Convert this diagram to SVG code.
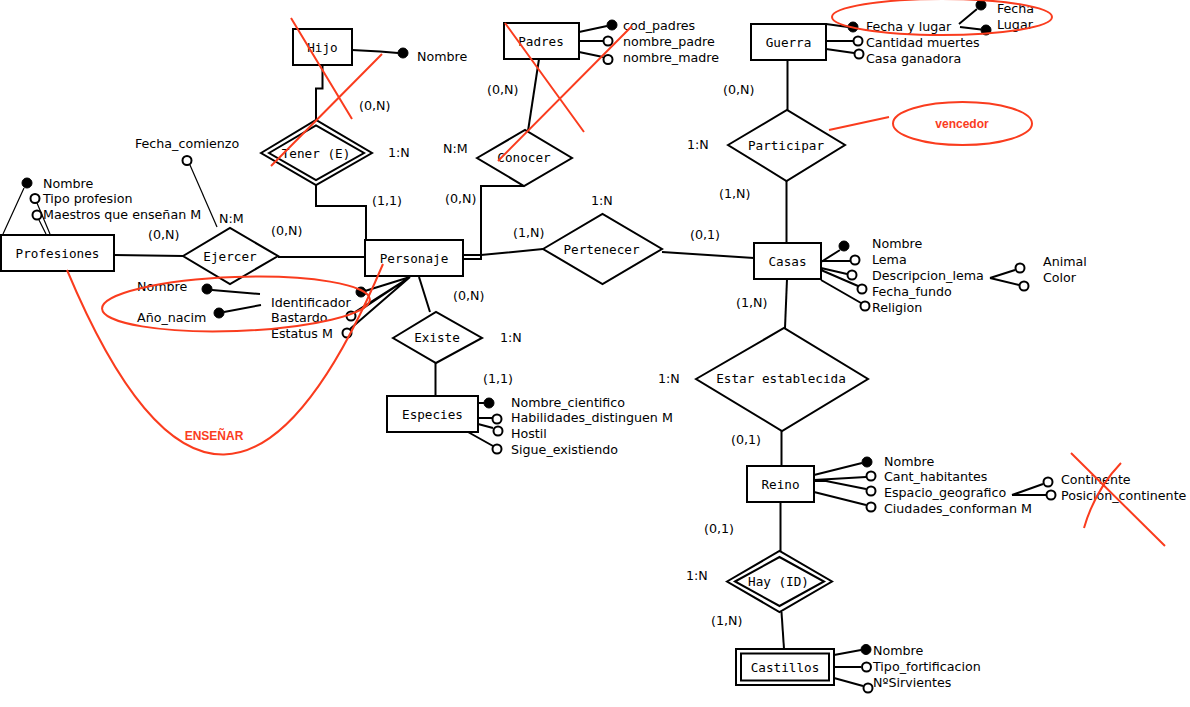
<svg xmlns="http://www.w3.org/2000/svg" width="1190" height="707" viewBox="0 0 1190 707">
<style>
  .box { fill: #fff; stroke: #000; stroke-width: 2; }
  .dia { fill: #fff; stroke: #000; stroke-width: 2; }
  .mono { font-family: "DejaVu Sans Mono", "Liberation Mono", monospace; font-size: 12.67px; text-anchor: middle; fill: #000; }
  .t { font-family: "DejaVu Sans", "Liberation Sans", sans-serif; font-size: 12.67px; fill: #000; }
  .ln { stroke: #000; stroke-width: 2; fill: none; }
  .thin { stroke: #000; stroke-width: 1.2; fill: none; }
  .key { fill: #000; stroke: #000; stroke-width: 1; }
  .opt { fill: #fff; stroke: #000; stroke-width: 2; }
  .red { stroke: #fa3c1e; stroke-width: 2; fill: none; }
  .redtxt { font-family: "Liberation Sans", Arial, sans-serif; font-weight: bold; font-size: 12px; fill: #fa3c1e; text-anchor: middle; }
</style>

<rect x="0" y="0" width="1190" height="707" fill="#fff"/>

<!-- relationship connectors -->
<g id="connectors">
  <path class="ln" d="M322.5,65 V88.5 H316 V121"/>
  <path class="ln" d="M316,185 V206 H366 V240"/>
  <path class="ln" d="M539,59 L528,131"/>
  <path class="ln" d="M524,186 H481 V259 H463"/>
  <path class="ln" d="M463,255 H481 L543,249"/>
  <path class="ln" d="M662,252 L754,258"/>
  <path class="ln" d="M787.5,60 V110"/>
  <path class="ln" d="M786.5,181 V243"/>
  <path class="ln" d="M787,279 L785,328"/>
  <path class="ln" d="M781.5,431 V466"/>
  <path class="ln" d="M780.5,502 V551"/>
  <path class="ln" d="M781.5,612 L784,649"/>
  <path class="ln" d="M114,255 L183,256"/>
  <path class="ln" d="M278,257 H365"/>
  <path class="ln" d="M419,277 L430,312"/>
  <path class="ln" d="M435.5,363 V396"/>
</g>

<!-- cardinalities -->
<g id="cardinalities" class="t">
  <text x="359" y="110">(0,N)</text>
  <text x="388" y="157">1:N</text>
  <text x="372" y="205">(1,1)</text>
  <text x="219" y="223">N:M</text>
  <text x="148" y="239">(0,N)</text>
  <text x="271" y="235">(0,N)</text>
  <text x="487" y="94">(0,N)</text>
  <text x="443" y="153">N:M</text>
  <text x="445" y="203">(0,N)</text>
  <text x="591" y="205">1:N</text>
  <text x="513" y="237">(1,N)</text>
  <text x="690" y="239">(0,1)</text>
  <text x="723" y="94">(0,N)</text>
  <text x="687" y="149">1:N</text>
  <text x="719" y="198">(1,N)</text>
  <text x="453" y="300">(0,N)</text>
  <text x="500" y="342">1:N</text>
  <text x="483" y="383">(1,1)</text>
  <text x="658" y="383">1:N</text>
  <text x="736" y="307">(1,N)</text>
  <text x="731" y="444">(0,1)</text>
  <text x="704" y="533">(0,1)</text>
  <text x="686" y="580">1:N</text>
  <text x="711" y="625">(1,N)</text>
</g>

<!-- entities -->
<g id="hijo">
  <rect class="box" x="293" y="29" width="59" height="36"/>
  <text class="mono" x="322.5" y="51.5">Hijo</text>
  <path class="ln" d="M352,50 L380,51.5 L398,53"/>
  <circle class="key" cx="403" cy="53" r="5"/>
  <text class="t" x="417" y="61">Nombre</text>
</g>

<g id="padres">
  <rect class="box" x="504" y="23" width="75" height="36"/>
  <text class="mono" x="541" y="45.5">Padres</text>
  <path class="ln" d="M579,32 L607,26 M579,41 H603 M579,52 L603,57"/>
  <circle class="key" cx="612" cy="25" r="5"/>
  <circle class="opt" cx="608" cy="41" r="4.5"/>
  <circle class="opt" cx="608" cy="59.5" r="4.5"/>
  <text class="t" x="623" y="30">cod_padres</text>
  <text class="t" x="623" y="46">nombre_padre</text>
  <text class="t" x="623" y="62">nombre_madre</text>
</g>

<g id="guerra">
  <rect class="box" x="751" y="24" width="75" height="36"/>
  <text class="mono" x="788.5" y="46.5">Guerra</text>
  <path class="ln" d="M826,24 L848,27 M826,41 H853 M826,49 L854,53"/>
  <circle class="key" cx="853" cy="27" r="5"/>
  <circle class="opt" cx="858" cy="41" r="4.5"/>
  <circle class="opt" cx="859" cy="54" r="4.5"/>
  <text class="t" x="866" y="30.5">Fecha y lugar</text>
  <text class="t" x="866" y="46.5">Cantidad muertes</text>
  <text class="t" x="866" y="62.5">Casa ganadora</text>
  <path class="ln" d="M959,24 L977,9 M960,27 L981,29.5"/>
  <circle class="key" cx="981" cy="5" r="5"/>
  <circle class="key" cx="986" cy="30" r="5"/>
  <text class="t" x="997" y="12.5">Fecha</text>
  <text class="t" x="997" y="29">Lugar</text>
</g>

<g id="profesiones">
  <rect class="box" x="1" y="235" width="113" height="36"/>
  <text class="mono" x="57.5" y="257.5">Profesiones</text>
  <path class="thin" d="M3,234 L24,188 M50,234 L37,203 M46,234 L39,220"/>
  <circle class="key" cx="27" cy="183" r="5"/>
  <circle class="opt" cx="35" cy="198.5" r="4.5"/>
  <circle class="opt" cx="37" cy="215" r="4.5"/>
  <text class="t" x="43" y="187.5">Nombre</text>
  <text class="t" x="43" y="203">Tipo profesion</text>
  <text class="t" x="43" y="219">Maestros que enseñan M</text>
</g>

<g id="personaje">
  <rect class="box" x="365" y="240" width="98" height="36"/>
  <text class="mono" x="414" y="262.5">Personaje</text>
  <path class="ln" d="M410,277 L365,291 M410,277 L362,309 M410,277 L355,312 M410,277 L350,329"/>
  <circle class="key" cx="361" cy="292" r="5"/>
  <circle class="opt" cx="351" cy="316" r="4.5"/>
  <circle class="opt" cx="347" cy="333" r="4.5"/>
  <text class="t" x="271" y="306.5">Identificador</text>
  <text class="t" x="271" y="321.5">Bastardo</text>
  <text class="t" x="271" y="337.5">Estatus M</text>
  <path class="ln" d="M212,290 L260,294 M224,312 L261,305"/>
  <circle class="key" cx="207" cy="289" r="5"/>
  <circle class="key" cx="219" cy="313" r="5"/>
  <text class="t" x="137" y="290.5">Nombre</text>
  <text class="t" x="137" y="321.5">Año_nacim</text>
</g>

<g id="casas">
  <rect class="box" x="754" y="243" width="67" height="36"/>
  <text class="mono" x="787.5" y="265.5">Casas</text>
  <path class="ln" d="M821,262 L840,250 M821,261 H850 M821,268 L847,274 M821,270 L858,286 M821,280 L861,303"/>
  <circle class="key" cx="844" cy="246" r="5"/>
  <circle class="opt" cx="855" cy="260" r="4.5"/>
  <circle class="opt" cx="852" cy="275" r="4.5"/>
  <circle class="opt" cx="862" cy="289" r="4.5"/>
  <circle class="opt" cx="865" cy="306" r="4.5"/>
  <text class="t" x="872" y="247.5">Nombre</text>
  <text class="t" x="872" y="263.5">Lema</text>
  <text class="t" x="872" y="279.5">Descripcion_lema</text>
  <text class="t" x="872" y="295.5">Fecha_fundo</text>
  <text class="t" x="872" y="311.5">Religion</text>
  <path class="ln" d="M990,278 L1015,270 M990,278 L1019,285"/>
  <circle class="opt" cx="1020" cy="268" r="4.5"/>
  <circle class="opt" cx="1024" cy="286" r="4.5"/>
  <text class="t" x="1043" y="265.5">Animal</text>
  <text class="t" x="1043" y="281.5">Color</text>
</g>

<g id="especies">
  <rect class="box" x="387" y="396" width="91" height="36"/>
  <text class="mono" x="432.5" y="418.5">Especies</text>
  <path class="ln" d="M478,403 H484 M478,418 H492 M478,424 L493,428 M468,432 L493,446"/>
  <circle class="key" cx="489" cy="403" r="5"/>
  <circle class="opt" cx="497" cy="419" r="4.5"/>
  <circle class="opt" cx="498" cy="431" r="4.5"/>
  <circle class="opt" cx="497" cy="449" r="4.5"/>
  <text class="t" x="511" y="406.5">Nombre_cientifico</text>
  <text class="t" x="511" y="422">Habilidades_distinguen M</text>
  <text class="t" x="511" y="438">Hostil</text>
  <text class="t" x="511" y="454">Sigue_existiendo</text>
</g>

<g id="reino">
  <rect class="box" x="747" y="466" width="67" height="36"/>
  <text class="mono" x="780.5" y="488.5">Reino</text>
  <path class="ln" d="M814,475 L862,463 M814,480 L866,477 M814,481 H826 L866,489 M814,492 L866,505"/>
  <circle class="key" cx="867" cy="462" r="5"/>
  <circle class="opt" cx="871" cy="476" r="4.5"/>
  <circle class="opt" cx="871" cy="491" r="4.5"/>
  <circle class="opt" cx="871" cy="507" r="4.5"/>
  <text class="t" x="884" y="465.5">Nombre</text>
  <text class="t" x="884" y="481">Cant_habitantes</text>
  <text class="t" x="884" y="497">Espacio_geografico</text>
  <text class="t" x="884" y="513">Ciudades_conforman M</text>
  <path class="ln" d="M1012,495 L1043,484 M1012,495 H1046"/>
  <circle class="opt" cx="1048" cy="482" r="4.5"/>
  <circle class="opt" cx="1051" cy="495" r="4.5"/>
  <text class="t" x="1061" y="484">Continente</text>
  <text class="t" x="1061" y="500">Posicion_continente</text>
</g>

<g id="castillos">
  <rect class="box" x="736" y="649" width="98" height="36"/>
  <rect class="box" x="741" y="653.5" width="88" height="27"/>
  <text class="mono" x="785" y="671.5">Castillos</text>
  <path class="ln" d="M834,655 L861,650 M834,667 H861 M834,678 L863,686"/>
  <circle class="key" cx="866" cy="649.5" r="5"/>
  <circle class="opt" cx="866.5" cy="667" r="4.5"/>
  <circle class="opt" cx="868" cy="688" r="4.5"/>
  <text class="t" x="873" y="655">Nombre</text>
  <text class="t" x="873" y="671">Tipo_fortificacion</text>
  <text class="t" x="873" y="687">NºSirvientes</text>
</g>

<!-- relationships -->
<g id="tener">
  <polygon class="dia" points="261,153 316,120 372,153 316,185"/>
  <polygon class="dia" points="269,153 316,125.5 364,153 316,180"/>
  <text class="mono" x="316" y="157.5">Tener (E)</text>
</g>
<g id="conocer">
  <polygon class="dia" points="477,158 525,130 572,158 524,186"/>
  <text class="mono" x="524" y="162">Conocer</text>
</g>
<g id="participar">
  <polygon class="dia" points="728,145 787,110 845,145 786.5,181"/>
  <text class="mono" x="786" y="149.5">Participar</text>
</g>
<g id="ejercer">
  <polygon class="dia" points="183,256 230,228 278,256 230,284"/>
  <circle class="opt" cx="187" cy="160.5" r="4.5"/>
  <path class="thin" d="M190,165 L217,227"/>
  <text class="t" x="135" y="148">Fecha_comienzo</text>
  <text class="mono" x="230" y="260.5">Ejercer</text>
</g>
<g id="pertenecer">
  <polygon class="dia" points="543,249 602.5,214 662,249 602.5,284"/>
  <text class="mono" x="601.5" y="253.5">Pertenecer</text>
</g>
<g id="existe">
  <polygon class="dia" points="393,338 436,312 482,338 436,363"/>
  <text class="mono" x="437" y="342">Existe</text>
</g>
<g id="estar-establecida">
  <polygon class="dia" points="696,379 784,328 868,379 782,431"/>
  <text class="mono" x="781" y="383">Estar establecida</text>
</g>
<g id="hay">
  <polygon class="dia" points="727,581.5 779.5,551 832,581.5 779.5,612"/>
  <polygon class="dia" points="735,581.5 779.5,557 824,581.5 779.5,606"/>
  <text class="mono" x="778.5" y="585.5">Hay (ID)</text>
</g>

<!-- red hand-drawn corrections -->
<g id="annotations">
  <path class="red" d="M291,18 L352,119 M382,54 L271,166"/>
  <path class="red" d="M505,23 L584,132 M632,26 L498,161"/>
  <ellipse class="red" cx="942" cy="17" rx="110" ry="18"/>
  <path class="red" d="M829,130 L889,117"/>
  <ellipse class="red" cx="962.5" cy="123.5" rx="69.5" ry="21.5"/>
  <text class="redtxt" x="962" y="127.5">vencedor</text>
  <ellipse class="red" cx="236" cy="304" rx="134" ry="27" transform="rotate(-2 236 304)"/>
  <path class="red" d="M67,270 Q223,642 383,264"/>
  <text class="redtxt" x="214" y="440">ENSEÑAR</text>
  <path class="red" d="M1071,453 L1165,546 M1121,463 Q1095,490 1084,528"/>
</g>
</svg>
